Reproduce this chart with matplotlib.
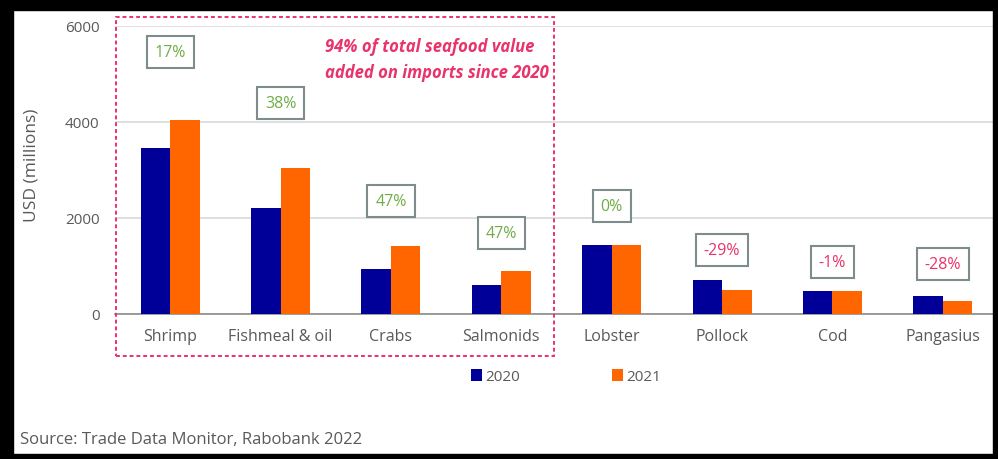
import numpy as np
import matplotlib.pyplot as plt
from matplotlib.patches import Rectangle

plt.rcParams['font.family'] = ['Open Sans', 'DejaVu Sans']

categories = ['Shrimp', 'Fishmeal & oil', 'Crabs', 'Salmonids',
              'Lobster', 'Pollock', 'Cod', 'Pangasius']
v2020 = [3450, 2210, 940, 610, 1430, 710, 480, 380]
v2021 = [4040, 3045, 1410, 895, 1430, 500, 480, 265]
changes = [17, 38, 47, 47, 0, -29, -1, -28]

# where the % boxes sit (data units)
box_y = [5440, 4390, 2340, 1690, 2250, 1330, 1080, 1040]

c2020 = '#000099'
c2021 = '#FF6600'
grey = '#595959'
pink = '#E8336B'
green = '#70AD47'

W, H = 998, 460
fig = plt.figure(figsize=(W / 100, H / 100), dpi=100)
ax = fig.add_axes([115 / W, (H - 315) / H, 883 / W, 288.5 / H])

x = np.arange(len(categories))
bw = 0.267
ax.bar(x - bw / 2, v2020, bw, color=c2020, label='2020', zorder=3)
ax.bar(x + bw / 2, v2021, bw, color=c2021, label='2021', zorder=3)

ax.set_xlim(-0.5, len(categories) - 0.5)
ax.set_ylim(0, 6000)
ax.set_yticks([0, 2000, 4000, 6000])
ax.set_xticks(x)
ax.set_xticklabels(categories)
ax.tick_params(axis='both', length=0, labelsize=11.5, labelcolor=grey)
ax.tick_params(axis='y', labelsize=11, pad=11)
ax.tick_params(axis='x', pad=10)
ax.grid(axis='y', color='#D9D9D9', lw=1.2, zorder=0)
for s in ['top', 'right', 'left']:
    ax.spines[s].set_visible(False)
ax.spines['bottom'].set_color('#8C8C8C')
ax.spines['bottom'].set_linewidth(1.2)
ax.set_ylabel('USD (millions)', fontsize=12.5, color=grey)
ax.yaxis.set_label_coords(-0.085, 0.52)

for i, ch in enumerate(changes):
    ax.text(i, box_y[i], f'{ch}%', ha='center', va='center', fontsize=11.5,
            color=green if ch >= 0 else pink, zorder=5,
            bbox=dict(boxstyle='square,pad=0.5', fc='white', ec='#7F8C8D', lw=1.5))

ax.legend(loc='center', bbox_to_anchor=(0.511, -0.218), ncol=2, frameon=False,
          handlelength=0.7, handleheight=0.75, handletextpad=0.25,
          columnspacing=6.0, fontsize=11, labelcolor=grey)

# dashed highlight box and note
fig.patches.append(Rectangle((116 / W, (H - 357) / H), 438 / W, 339 / H,
                             transform=fig.transFigure, fill=False, ec=pink,
                             lw=1.4, ls=(0, (2, 1.5)), zorder=10))
fig.text(325 / W, (H - 47) / H, '94% of total seafood value', color=pink,
         fontsize=12, style='italic', fontweight='bold', va='center', ha='left')
fig.text(325 / W, (H - 73) / H, 'added on imports since 2020', color=pink,
         fontsize=12, style='italic', fontweight='bold', va='center', ha='left')

fig.text(20 / W, (H - 440) / H, 'Source: Trade Data Monitor, Rabobank 2022',
         color=grey, fontsize=12, va='center', ha='left')

# black frame
for (x0, y0, w, h) in [(0, 0, 13, H), (0, 0, W, 5), (993, 0, 5, H), (0, H - 11, W, 11)]:
    fig.patches.append(Rectangle((x0 / W, y0 / H), w / W, h / H,
                                 transform=fig.transFigure, color='black', zorder=20))

fig.savefig('out.png', dpi=100)
